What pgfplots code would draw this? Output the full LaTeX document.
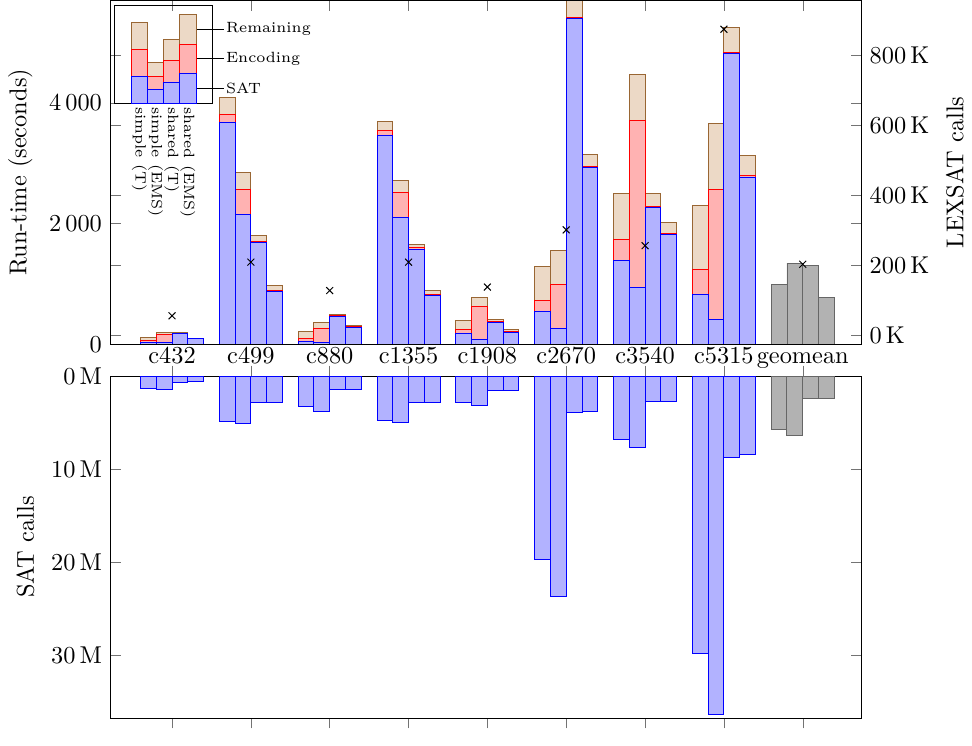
\documentclass[border=0pt]{standalone}
\usepackage{pgfplots}
\pgfplotsset{compat=1.18}
\begin{document}
\begin{tikzpicture}
\pgfplotsset{/pgf/number format/1000 sep={\,}, major tick style={draw=black!55}}
\def\W{308.3pt}
\begin{axis}[
  name=top,
  scale only axis,
  width=\W, height=141.2pt,
  xmin=-0.78, xmax=8.74,
  ymin=0, ymax=5700,
  xtick={0,1,2,3,4,5,6,7,8},
  xticklabels={c432,c499,c880,c1355,c1908,c2670,c3540,c5315,geomean},
  x tick label style={inner sep=1pt, text height=1.6ex, text depth=0.3ex},
  ytick={0,2000,4000},
  ylabel={Run-time (seconds)},
  ybar stacked, bar width=0.2,
]
\addplot[fill=blue!30, draw=blue] coordinates {
(-0.3,33) (-0.1,23) (0.1,170) (0.3,90)
(0.7,3683) (0.9,2150) (1.1,1695) (1.3,878)
(1.7,50) (1.9,23) (2.1,462) (2.3,278)
(2.7,3462) (2.9,2095) (3.1,1575) (3.3,812)
(3.7,173) (3.9,78) (4.1,362) (4.3,200)
(4.7,540) (4.9,257) (5.1,5407) (5.3,2923)
(5.7,1383) (5.9,940) (6.1,2273) (6.3,1823)
(6.7,823) (6.9,412) (7.1,4828) (7.3,2773)
};
\addplot[fill=red!30, draw=red] coordinates {
(-0.3,34) (-0.1,139) (0.1,5) (0.3,2)
(0.7,124) (0.9,423) (1.1,12) (1.3,12)
(1.7,45) (1.9,239) (2.1,8) (2.3,12)
(2.7,78) (2.9,422) (3.1,35) (3.3,11)
(3.7,77) (3.9,545) (4.1,21) (4.3,17)
(4.7,193) (4.9,733) (5.1,16) (5.3,17)
(5.7,357) (5.9,2777) (6.1,7) (6.3,7)
(6.7,417) (6.9,2161) (7.1,7) (7.3,17)
};
\addplot[fill=brown!30, draw=brown!80!black] coordinates {
(-0.3,40) (-0.1,28) (0.1,15) (0.3,5)
(0.7,288) (0.9,277) (1.1,100) (1.3,77)
(1.7,112) (1.9,100) (2.1,20) (2.3,17)
(2.7,155) (2.9,190) (3.1,40) (3.3,67)
(3.7,145) (3.9,150) (4.1,24) (4.3,23)
(4.7,557) (4.9,572) (5.1,577) (5.3,200)
(5.7,760) (5.9,750) (6.1,215) (6.3,193)
(6.7,1067) (6.9,1094) (7.1,422) (7.3,333)
};
\end{axis}
% geomean bars (seconds)
\begin{axis}[
  at={(top.south west)}, anchor=south west,
  scale only axis, width=\W, height=141.2pt,
  xmin=-0.78, xmax=8.74, ymin=0, ymax=5700,
  hide axis, ybar, bar width=0.2,
]
\addplot[fill=black!30, draw=black!60, bar shift=0pt] coordinates {
(7.7,995) (7.9,1345) (8.1,1307) (8.3,773)
};
\end{axis}
% right axis: LEXSAT calls
\begin{axis}[
  at={(top.south west)}, anchor=south west,
  scale only axis, width=\W, height=141.2pt,
  xmin=-0.78, xmax=8.74, ymin=-25, ymax=955,
  xtick=\empty,
  yticklabel pos=right,
  ytick={0,200,400,600,800},
  yticklabel={\pgfmathprintnumber{\tick}\,K},
  ylabel={LEXSAT calls},
]
\addplot[only marks, mark=x, black] coordinates {
(0,56) (1,209) (2,128) (3,209) (4,138) (5,301) (6,256) (7,873) (8,203)
};
\end{axis}
% inset legend
\begin{axis}[
  at={(top.north west)}, anchor=north west, xshift=1.8pt, yshift=-2.2pt,
  scale only axis, width=40pt, height=40pt,
  xmin=-1.5, xmax=4.5, ymin=0, ymax=3.625,
  ytick=\empty, xtick={0,1,2,3},
  major tick length=0pt,
  xticklabels={simple (T),simple (EMS),shared (T),shared (EMS)},
  xticklabel style={rotate=-90, anchor=west, font=\fontsize{6.1}{6.5}\selectfont, inner sep=1.5pt},
  ybar stacked, bar width=1,
  clip=false,
]
\addplot[fill=blue!30, draw=blue] coordinates {(0,1) (1,0.5) (2,0.79) (3,1.1)};
\addplot[fill=red!30, draw=red] coordinates {(0,1) (1,0.5) (2,0.79) (3,1.1)};
\addplot[fill=brown!30, draw=brown!80!black] coordinates {(0,1) (1,0.5) (2,0.79) (3,1.1)};
\draw (axis cs:3,2.75) -- (axis cs:5.2,2.75) node[right, inner sep=0.8pt, font=\fontsize{6.1}{6.5}\selectfont] {Remaining};
\draw (axis cs:3,1.65) -- (axis cs:5.2,1.65) node[right, inner sep=0.8pt, font=\fontsize{6.1}{6.5}\selectfont] {Encoding};
\draw (axis cs:3,0.55) -- (axis cs:5.2,0.55) node[right, inner sep=0.8pt, font=\fontsize{6.1}{6.5}\selectfont] {SAT};
\end{axis}
% bottom axis: SAT calls
\begin{axis}[
  at={(top.south west)}, anchor=north west, yshift=-13.06pt,
  scale only axis, width=\W, height=140.5pt,
  xmin=-0.78, xmax=8.74, ymin=0, ymax=36.8, y dir=reverse,
  xtick={0,1,2,3,4,5,6,7,8}, xticklabels=\empty,
  ytick={0,10,20,30},
  yticklabel={\pgfmathprintnumber{\tick}\,M},
  ylabel={SAT calls},
  ybar, bar width=0.2,
]
\addplot[fill=blue!30, draw=blue, bar shift=0pt] coordinates {
(-0.3,1.34) (-0.1,1.40) (0.1,0.69) (0.3,0.61)
(0.7,4.90) (0.9,5.07) (1.1,2.88) (1.3,2.81)
(1.7,3.28) (1.9,3.85) (2.1,1.45) (2.3,1.40)
(2.7,4.80) (2.9,5.05) (3.1,2.85) (3.3,2.85)
(3.7,2.89) (3.9,3.21) (4.1,1.56) (4.3,1.59)
(4.7,19.77) (4.9,23.74) (5.1,3.94) (5.3,3.79)
(5.7,6.79) (5.9,7.69) (6.1,2.78) (6.3,2.71)
(6.7,29.9) (6.9,36.4) (7.1,8.77) (7.3,8.41)
};
\addplot[fill=black!30, draw=black!60, bar shift=0pt] coordinates {
(7.7,5.74) (7.9,6.43) (8.1,2.46) (8.3,2.38)
};
\end{axis}
\end{tikzpicture}
\end{document}
